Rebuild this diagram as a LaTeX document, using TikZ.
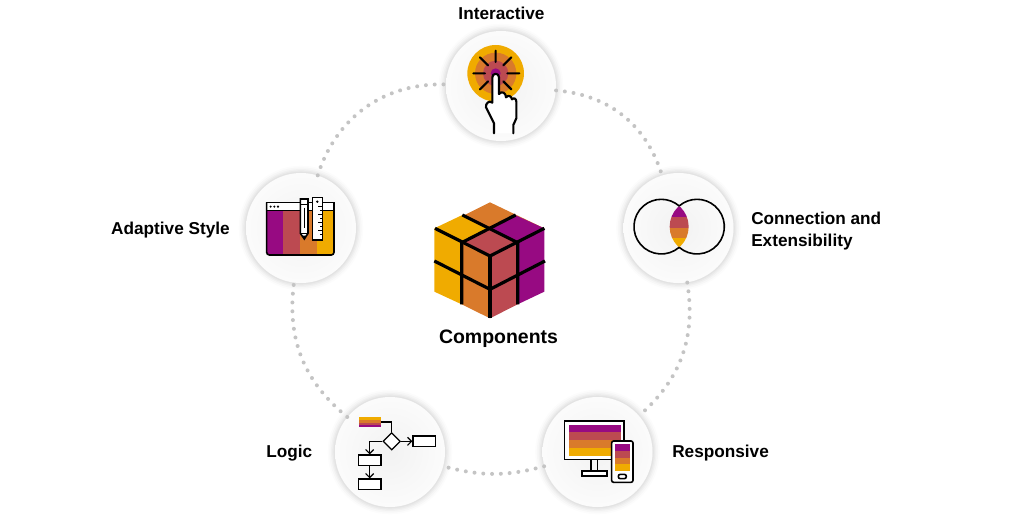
\documentclass[tikz,border=0pt]{standalone}
\usepackage{fontspec}
\setmainfont{Liberation Sans}
\usetikzlibrary{arrows.meta,shapes.geometric}
\definecolor{cpurple}{HTML}{970A82}
\definecolor{crose}{HTML}{BC4A51}
\definecolor{corange}{HTML}{D97A2B}
\definecolor{cyellow}{HTML}{F0AB00}
\definecolor{cdot}{HTML}{C4C4C4}
\tikzset{
  x=0.75pt,y=-0.75pt,
  disc/.style={circle,minimum size=82.5pt,inner sep=0pt,
    preaction={draw=black,draw opacity=.012,line width=11pt},
    preaction={draw=black,draw opacity=.018,line width=8.5pt},
    preaction={draw=black,draw opacity=.022,line width=6pt},
    preaction={draw=black,draw opacity=.028,line width=4pt},
    preaction={draw=black,draw opacity=.03,line width=2pt},
    inner color=black!5,outer color=black!1.5},
  ring/.style={draw=cdot,line width=3pt,line cap=round,dash pattern=on 0pt off 6.6pt},
  lab/.style={font=\bfseries\fontsize{12.9pt}{16pt}\selectfont,inner sep=0pt},
  ln/.style={draw=black,line width=1.2pt},
  thk/.style={draw=black,line width=1.6pt,line cap=round},
  cb/.style={draw=black,line width=2.4pt},
  flowbox/.style={draw=black,line width=.9pt,fill=white,minimum width=17pt,minimum height=8pt,inner sep=0pt},
  flowdia/.style={diamond,draw=black,line width=.9pt,fill=white,minimum width=13pt,minimum height=13pt,inner sep=0pt},
  flowln/.style={draw=black,line width=.9pt},
  flowar/.style={draw=black,line width=.9pt,-{Straight Barb[length=3pt,width=6pt]}},
}
\begin{document}
\begin{tikzpicture}
\useasboundingbox (0,0) rectangle (1024,521);
% discs
\node[disc] (inter) at (501,86) {};
\node[disc] (adapt) at (301,228) {};
\node[disc] (conn) at (678.5,228) {};
\node[disc] (logic) at (390,452) {};
\node[disc] (resp) at (597.5,452) {};
% ring
\draw[ring] (inter) to[bend left=34] (conn);
\draw[ring] (conn) to[bend left=29] (resp);
\draw[ring] (resp) to[bend left=15] (logic);
\draw[ring] (logic) to[bend left=29] (adapt);
\draw[ring] (adapt) to[bend left=37] (inter);
% labels
\node[lab] (t1) at (501.5,13.5) {Interactive};
\node[lab,anchor=east] (t2) at (230,230) {Adaptive Style};
\node[lab,anchor=west,align=left] (t3) at (751,231) {Connection and\\Extensibility};
\node[lab,anchor=east] (t4) at (312.5,453.5) {Logic};
\node[lab,anchor=west] (t5) at (672,453.5) {Responsive};
\node[lab,font=\bfseries\fontsize{14.6pt}{18pt}\selectfont] (t6) at (498.5,339) {Components};
% cube
\begin{scope}[shift={(425,195)},scale=0.3333]
\fill[corange] (195,22) -- (358,100) -- (195,100) -- (28,105) -- cycle;
\fill[cyellow] (28,100) -- (112,60) -- (195,100) -- (110,143) -- (110,328) -- (28,290) -- cycle;
\fill[cpurple] (270,60) -- (358,100) -- (358,290) -- (278,328) -- (278,143) -- (195,100) -- cycle;
\fill[crose] (195,100) -- (278,143) -- (278,328) -- (195,370) -- (195,183) -- (110,143) -- cycle;
\fill[corange] (110,143) -- (195,183) -- (195,370) -- (110,328) -- cycle;
\draw[cb] (30,100) -- (195,183) -- (358,100);
\draw[cb] (195,183) -- (195,370);
\draw[cb] (112,60) -- (278,143) -- (278,328);
\draw[cb] (272,60) -- (110,143) -- (110,328);
\draw[cb] (28,198) -- (195,283) -- (360,198);
\end{scope}
% interactive icon
\begin{scope}[shift={(430,20)},scale=0.3333]
\fill[cyellow] (197,160) circle[radius=85];
\fill[corange] (197,160) circle[radius=62];
\fill[crose] (197,160) circle[radius=38];
\fill[cpurple] (197,160) circle[radius=15];
\draw[thk] (197,92) -- (197,126) (130,160) -- (165,160) (232,160) -- (268,160)
  (150,112) -- (174,136) (244,112) -- (220,136) (150,208) -- (174,184) (244,208) -- (220,184);
\filldraw[fill=white,thk,line join=round] (192,340) -- (192,310) -- (168,262) .. controls (166,250) and (178,240) .. (187,248)
  -- (187,172) .. controls (187,158) and (207,158) .. (207,172) -- (207,222)
  .. controls (215,212) and (228,218) .. (228,232) .. controls (235,224) and (244,228) .. (246,238)
  .. controls (252,232) and (259,236) .. (259,245) -- (259,295) -- (250,315) -- (250,340);
\end{scope}
% adaptive style icon
\begin{scope}[shift={(235,165)},scale=0.3333]
\fill[cpurple] (95,137) rectangle (145,270);
\fill[crose] (145,137) rectangle (195,270);
\fill[corange] (195,137) rectangle (245,270);
\fill[cyellow] (245,137) rectangle (297,270);
\filldraw[fill=white,ln] (95,112) rectangle (297,137);
\draw[ln,rounded corners=2pt] (95,112) -- (95,270) -- (297,270) -- (297,112);
\fill (107,125) circle[radius=3.5] (118,125) circle[radius=3.5] (129,125) circle[radius=3.5];
\filldraw[fill=white,ln] (196,102) -- (219,102) -- (219,205) -- (208,222) -- (196,205) -- cycle;
\draw[ln] (196,118) -- (219,118) (196,205) -- (219,205) (208,128) -- (208,190);
\fill (208,222) -- (202,212) -- (214,212) -- cycle;
\filldraw[fill=white,ln] (233,97) rectangle (262,225);
\fill (247,110) circle[radius=4];
\draw[draw=black,line width=.7pt] (262,125) -- (248,125) (262,137) -- (254,137) (262,149) -- (248,149) (262,161) -- (254,161) (262,173) -- (248,173) (262,185) -- (254,185) (262,197) -- (248,197) (262,209) -- (254,209);
\end{scope}
% connection icon
\begin{scope}[shift={(615,165)},scale=0.3333]
\begin{scope}
\clip (139,185) circle[radius=82];
\clip (246,185) circle[radius=82];
\fill[cpurple] (150,115) rectangle (235,157);
\fill[crose] (150,157) rectangle (235,188);
\fill[corange] (150,188) rectangle (235,220);
\fill[cyellow] (150,220) rectangle (235,255);
\end{scope}
\draw[ln] (192.5,247) arc[start angle=49.2,end angle=310.8,radius=82];
\draw[ln] (192.5,247) arc[start angle=130.8,end angle=-130.8,radius=82];
\end{scope}
% logic icon
\begin{scope}[shift={(330,390)},scale=0.3333]
\fill[cyellow] (87,80) rectangle (152,90);
\fill[corange] (87,90) rectangle (152,98);
\fill[crose] (87,98) rectangle (152,105);
\fill[cpurple] (87,105) rectangle (152,112);
\coordinate (barend) at (152,96);
\node[flowdia] (fdia) at (185,154) {};
\node[flowbox] (fb1) at (283,154) {};
\node[flowbox] (fb2) at (119,211) {};
\node[flowbox] (fb3) at (119,283) {};
\draw[flowln] (barend) -| (fdia.north);
\draw[flowar] (fdia.east) -- (fb1.west);
\draw[flowar] (fdia.west) -| (fb2.north);
\draw[flowar] (fb2.south) -- (fb3.north);
\end{scope}
% responsive icon
\begin{scope}[shift={(535,390)},scale=0.3333]
\filldraw[fill=white,ln] (89,93) rectangle (267,209);
\fill[cpurple] (101,104) rectangle (257,127);
\fill[crose] (101,127) rectangle (257,151);
\fill[corange] (101,151) rectangle (257,175);
\fill[cyellow] (101,175) rectangle (257,198);
\draw[ln] (168,209) -- (168,243) (188,209) -- (188,243);
\filldraw[fill=white,ln] (141,243) rectangle (216,258);
\filldraw[fill=white,ln,rounded corners=1.5pt] (230,153) rectangle (294,277);
\fill[cpurple] (241,163) rectangle (284,183);
\fill[crose] (241,183) rectangle (284,203);
\fill[corange] (241,203) rectangle (284,223);
\fill[cyellow] (241,223) rectangle (284,243);
\draw[ln,rounded corners=1.5pt] (250,253) rectangle (274,266);
\end{scope}
\end{tikzpicture}
\end{document}
